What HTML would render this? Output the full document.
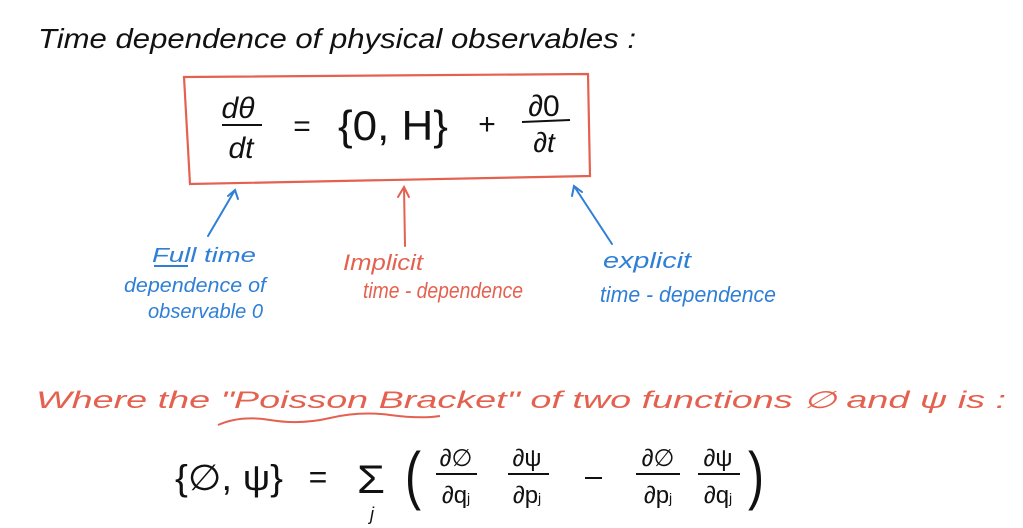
<!DOCTYPE html>
<html><head><meta charset="utf-8"><style>
html,body{margin:0;padding:0;background:#fff;}
svg{display:block;}
text{font-family:"Liberation Sans",sans-serif;}
</style></head><body>
<svg width="1023" height="528" viewBox="0 0 1023 528" xmlns="http://www.w3.org/2000/svg">
<text x="38" y="48" font-size="28" fill="#111" textLength="598" lengthAdjust="spacingAndGlyphs" font-style="italic">Time  dependence  of  physical  observables :</text>
<path d="M184 77 L588 74 L590 176 L190 184 Z" fill="none" stroke="#e5614f" stroke-width="2.2"/>
<text x="238" y="118" font-size="30" fill="#111" text-anchor="middle" font-style="italic">dθ</text>
<line x1="222" y1="125" x2="262" y2="125" stroke="#111" stroke-width="2"/>
<text x="241" y="158" font-size="30" fill="#111" text-anchor="middle" font-style="italic">dt</text>
<text x="302" y="136" font-size="30" fill="#111" text-anchor="middle">=</text>
<text x="338" y="140" font-size="42" fill="#111" textLength="110" lengthAdjust="spacingAndGlyphs">{0, H}</text>
<text x="487" y="134" font-size="30" fill="#111" text-anchor="middle">+</text>
<text x="544" y="116" font-size="30" fill="#111" text-anchor="middle">∂0</text>
<line x1="522" y1="122" x2="570" y2="120" stroke="#111" stroke-width="2"/>
<text x="544" y="152" font-size="28" fill="#111" text-anchor="middle" font-style="italic">∂t</text>
<g fill="none" stroke="#2f7fd6" stroke-width="2" stroke-linecap="round">
<path d="M208 236 L235 190 M228 196 L235 190 L238 199"/>
<path d="M612 244 L574 186 M572 196 L574 186 L582 192"/>
</g>
<g fill="none" stroke="#e5614f" stroke-width="2" stroke-linecap="round">
<path d="M405 246 L404 187 M398 197 L404 187 L409 197"/>
</g>
<g fill="#2f7fd6" font-style="italic">
<text x="152" y="262" font-size="20" textLength="104" lengthAdjust="spacingAndGlyphs">Full  time</text>
<line x1="154" y1="266" x2="188" y2="266" stroke="#2f7fd6" stroke-width="2"/>
<text x="124" y="292" font-size="20" textLength="142" lengthAdjust="spacingAndGlyphs">dependence of</text>
<text x="148" y="318" font-size="20" textLength="115" lengthAdjust="spacingAndGlyphs">observable 0</text>
<text x="603" y="268" font-size="22" textLength="88" lengthAdjust="spacingAndGlyphs">explicit</text>
<text x="600" y="302" font-size="22" textLength="176" lengthAdjust="spacingAndGlyphs">time - dependence</text>
</g>
<g fill="#e5614f" font-style="italic">
<text x="343" y="270" font-size="22" textLength="80" lengthAdjust="spacingAndGlyphs">Implicit</text>
<text x="363" y="298" font-size="22" textLength="160" lengthAdjust="spacingAndGlyphs">time - dependence</text>
</g>
<text x="36" y="408" font-size="24" fill="#e5614f" font-style="italic" textLength="970" lengthAdjust="spacingAndGlyphs">Where  the  "Poisson  Bracket"  of  two  functions  ∅  and  ψ  is :</text>
<path d="M218 425 Q240 415 270 420 T330 418 T390 415 T440 416" fill="none" stroke="#e5614f" stroke-width="2"/>
<g fill="#111">
<text x="175" y="490" font-size="36" textLength="108" lengthAdjust="spacingAndGlyphs">{∅, ψ}</text>
<text x="318" y="488" font-size="32" text-anchor="middle">=</text>
<text x="357" y="493" font-size="40" textLength="28" lengthAdjust="spacingAndGlyphs">Σ</text>
<text x="370" y="520" font-size="18" font-style="italic">j</text>
<text x="405" y="497" font-size="64" font-weight="100" textLength="16" lengthAdjust="spacingAndGlyphs">(</text>
<text x="456" y="466" font-size="24" text-anchor="middle">∂∅</text>
<line x1="436" y1="474" x2="477" y2="474" stroke="#111" stroke-width="2"/>
<text x="456" y="503" font-size="24" text-anchor="middle">∂q<tspan font-size="14">j</tspan></text>
<text x="527" y="466" font-size="24" text-anchor="middle">∂ψ</text>
<line x1="508" y1="474" x2="549" y2="474" stroke="#111" stroke-width="2"/>
<text x="527" y="503" font-size="24" text-anchor="middle">∂p<tspan font-size="14">j</tspan></text>
<line x1="585" y1="478" x2="602" y2="478" stroke="#111" stroke-width="2"/>
<text x="658" y="466" font-size="24" text-anchor="middle">∂∅</text>
<line x1="636" y1="474" x2="680" y2="474" stroke="#111" stroke-width="2"/>
<text x="658" y="503" font-size="24" text-anchor="middle">∂p<tspan font-size="14">j</tspan></text>
<text x="718" y="466" font-size="24" text-anchor="middle">∂ψ</text>
<line x1="698" y1="474" x2="740" y2="474" stroke="#111" stroke-width="2"/>
<text x="718" y="503" font-size="24" text-anchor="middle">∂q<tspan font-size="14">j</tspan></text>
<text x="748" y="497" font-size="64" font-weight="100" textLength="16" lengthAdjust="spacingAndGlyphs">)</text>
</g>
</svg>
</body></html>
